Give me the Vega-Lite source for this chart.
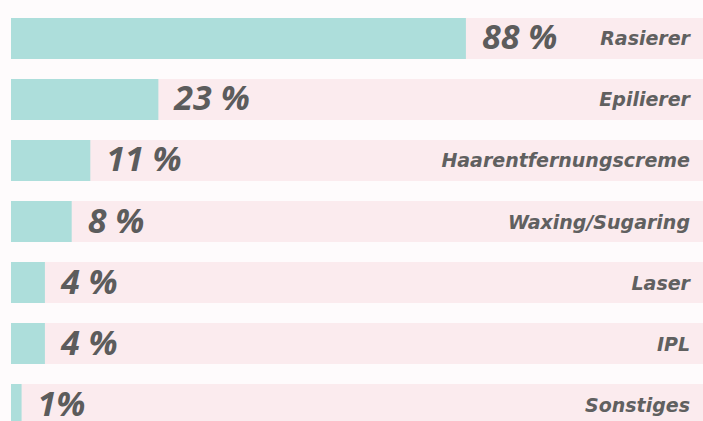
{
  "$schema": "https://vega.github.io/schema/vega-lite/v6.json",
  "width": 692,
  "height": 407,
  "autosize": {"type": "none"},
  "padding": {"top": 18, "left": 11, "right": 0, "bottom": 0},
  "background": "#fefbfc",
  "config": {"view": {"stroke": null}},
  "data": {
    "values": [
      {"method": "Rasierer", "value": 88, "label": "88 %"},
      {"method": "Epilierer", "value": 23, "label": "23 %"},
      {"method": "Haarentfernungscreme", "value": 11, "label": "11 %"},
      {"method": "Waxing/Sugaring", "value": 8, "label": "8 %"},
      {"method": "Laser", "value": 4, "label": "4 %"},
      {"method": "IPL", "value": 4, "label": "4 %"},
      {"method": "Sonstiges", "value": 1, "label": "1%"}
    ]
  },
  "encoding": {
    "y": {
      "field": "method",
      "type": "nominal",
      "sort": null,
      "axis": null,
      "scale": {"paddingInner": 0.328, "paddingOuter": 0}
    }
  },
  "layer": [
    {
      "mark": {"type": "bar", "color": "#fbebee"}
    },
    {
      "mark": {"type": "bar", "color": "#addedb"},
      "encoding": {
        "x": {
          "field": "value",
          "type": "quantitative",
          "axis": null,
          "scale": {"type": "pow", "exponent": 0.84, "domain": [0, 145], "nice": false}
        }
      }
    },
    {
      "mark": {
        "type": "text",
        "align": "left",
        "baseline": "middle",
        "dx": 16,
        "dy": 1,
        "font": "Open Sans",
        "fontSize": 34,
        "fontWeight": "bold",
        "fontStyle": "italic",
        "color": "#5c5c5c"
      },
      "encoding": {
        "x": {"field": "value", "type": "quantitative"},
        "text": {"field": "label"}
      }
    },
    {
      "mark": {
        "type": "text",
        "align": "right",
        "baseline": "middle",
        "dx": -13,
        "dy": 1,
        "font": "DejaVu Sans",
        "fontSize": 19,
        "fontWeight": "bold",
        "fontStyle": "italic",
        "color": "#606060"
      },
      "encoding": {
        "x": {"value": "width"},
        "text": {"field": "method"}
      }
    }
  ]
}
